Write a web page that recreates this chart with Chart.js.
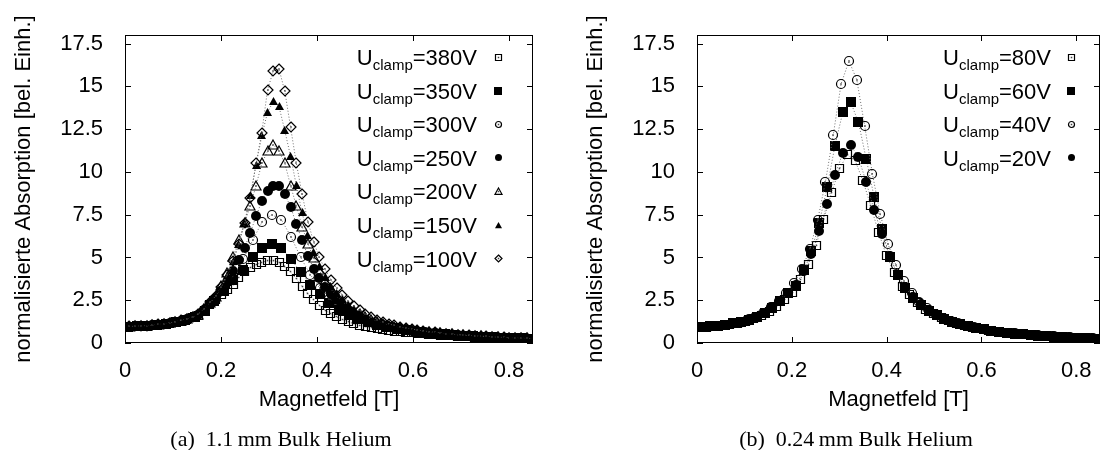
<!DOCTYPE html>
<html>
<head>
<meta charset="utf-8">
<script src="https://cdn.jsdelivr.net/npm/chart.js@4.4.1/dist/chart.umd.min.js"></script>
<style>
  html, body { margin: 0; padding: 0; background: #fff; }
  #wrap { position: relative; width: 1106px; height: 450px; overflow: hidden; }
  .panel { position: absolute; top: 0; width: 553px; height: 450px; }
  .caption { position: absolute; top: 427px; line-height: 24px; font-family: "Liberation Serif", "Times New Roman", serif;
             font-size: 22px; color: #000; white-space: nowrap; transform: translateX(-50%); }
</style>
</head>
<body>
<div id="wrap">
  <div class="panel" style="left:0"><canvas id="chart-a" width="553" height="450"></canvas></div>
  <div class="panel" style="left:553px"><canvas id="chart-b" width="553" height="450"></canvas></div>
  <div class="caption" style="left:281px">(a)&nbsp; 1.1&thinsp;mm Bulk Helium</div>
  <div class="caption" style="left:856px">(b)&nbsp; 0.24&thinsp;mm Bulk Helium</div>
</div>
<script>
// tick labels
const xTicks = [0, 0.2, 0.4, 0.6, 0.8];
const yTicks = [0, 2.5, 5, 7.5, 10, 12.5, 15, 17.5];

// (a) 1.1 mm -- field values [T]
const fieldA = [0.009,0.021,0.033,0.045,0.057,0.069,0.081,0.093,0.105,0.117,0.129,0.141,0.153,0.165,0.177,0.189,0.201,0.213,0.225,0.237,
  0.249,0.261,0.273,0.285,0.297,0.309,0.321,0.333,0.345,0.357,0.369,0.381,0.393,0.405,0.417,0.429,0.441,0.453,0.465,0.477,
  0.489,0.501,0.513,0.525,0.537,0.549,0.561,0.573,0.585,0.597,0.609,0.621,0.633,0.645,0.657,0.669,0.681,0.693,0.705,0.717,
  0.729,0.741,0.753,0.765,0.777,0.789,0.801,0.813,0.825,0.837,0.849];
const fieldB = [0.006,0.026,0.046,0.066,0.086,0.106,0.126,0.146,0.166,0.186,0.206,0.226,0.246,0.266,0.286,0.306,0.326,0.346,0.366,0.386,
  0.406,0.426,0.446,0.466,0.486,0.506,0.526,0.546,0.566,0.586,0.606,0.626,0.646,0.666,0.686,0.706,0.726,0.746,0.766,0.786,
  0.806,0.826,0.846];

const abs380 = [0.95,0.96,0.98,1.00,1.03,1.06,1.10,1.15,1.21,1.28,1.37,1.48,1.62,1.90,2.25,2.55,2.85,3.10,3.40,3.80,
  4.15,4.40,4.58,4.72,4.80,4.80,4.72,4.50,4.15,3.75,3.30,2.90,2.52,2.20,1.92,1.70,1.52,1.37,1.24,1.13,
  1.04,0.96,0.89,0.83,0.78,0.73,0.69,0.65,0.62,0.59,0.56,0.53,0.50,0.48,0.46,0.44,0.42,0.40,0.38,0.36,
  0.35,0.33,0.32,0.30,0.29,0.28,0.26,0.25,0.24,0.23,0.22];
const abs350 = [0.95,0.98,1.01,1.06,1.12,1.21,1.34,1.52,1.88,2.45,3.05,3.70,4.25,5.05,5.55,5.80,5.55,4.90,4.15,3.40,
  2.85,2.35,1.95,1.65,1.40,1.20,1.05,0.93,0.83,0.74,0.67,0.60,0.55,0.50,0.46,0.42,0.39,0.36,0.33,0.31,
  0.29,0.27,0.25];
const abs300 = [0.96,0.98,1.01,1.06,1.12,1.22,1.35,1.54,1.90,2.45,3.15,3.95,4.90,6.00,7.10,7.50,7.20,6.20,5.00,4.00,
  3.20,2.60,2.15,1.80,1.52,1.30,1.13,0.99,0.88,0.78,0.70,0.63,0.57,0.52,0.47,0.43,0.40,0.37,0.34,0.31,
  0.29,0.27,0.25];
const abs250 = [0.96,0.97,0.99,1.01,1.04,1.07,1.11,1.16,1.22,1.29,1.38,1.50,1.65,1.95,2.30,2.65,3.05,3.55,4.20,4.85,
  5.55,6.45,7.40,8.30,8.90,9.20,9.20,8.70,7.95,6.95,6.00,5.10,4.35,3.80,3.30,2.85,2.50,2.18,1.92,1.70,
  1.52,1.37,1.24,1.13,1.03,0.95,0.88,0.82,0.77,0.72,0.67,0.63,0.59,0.56,0.53,0.50,0.47,0.45,0.42,0.40,
  0.38,0.36,0.35,0.33,0.32,0.30,0.29,0.28,0.27,0.26,0.25];
const abs200 = [0.95,0.97,0.99,1.01,1.04,1.07,1.11,1.16,1.22,1.30,1.39,1.51,1.66,1.97,2.32,2.70,3.35,4.10,5.00,6.00,
  7.00,8.00,9.20,10.50,11.20,11.60,11.20,10.50,9.20,8.00,6.80,5.80,4.95,4.25,3.65,3.15,2.75,2.42,2.13,1.88,
  1.67,1.50,1.35,1.22,1.11,1.02,0.94,0.87,0.81,0.76,0.71,0.67,0.63,0.59,0.56,0.53,0.50,0.47,0.45,0.43,
  0.41,0.39,0.37,0.35,0.33,0.32,0.30,0.29,0.28,0.27,0.26];
const abs150 = [0.96,0.97,0.99,1.02,1.05,1.08,1.12,1.17,1.23,1.31,1.40,1.52,1.68,1.98,2.33,2.70,3.25,3.95,4.75,5.75,
  7.00,8.60,10.40,12.10,13.50,14.10,13.80,12.40,10.90,9.20,7.60,6.30,5.30,4.50,3.85,3.30,2.88,2.52,2.21,1.95,
  1.73,1.55,1.39,1.25,1.13,1.04,0.96,0.89,0.83,0.77,0.72,0.68,0.64,0.60,0.57,0.54,0.51,0.48,0.45,0.43,
  0.41,0.39,0.37,0.35,0.34,0.32,0.31,0.29,0.28,0.27,0.26];
const abs100 = [0.97,0.98,1.00,1.02,1.05,1.09,1.13,1.18,1.24,1.32,1.41,1.53,1.70,2.00,2.38,2.75,3.30,4.00,4.80,5.80,
  7.00,8.50,10.50,12.30,14.80,15.90,16.00,14.70,12.60,10.50,8.70,7.10,5.90,5.00,4.30,3.70,3.20,2.80,2.45,2.15,
  1.90,1.70,1.52,1.37,1.24,1.13,1.03,0.95,0.88,0.82,0.76,0.71,0.67,0.63,0.59,0.55,0.52,0.49,0.47,0.44,
  0.42,0.40,0.38,0.36,0.34,0.33,0.31,0.30,0.28,0.27,0.26];

// (b) 0.24 mm -- the runs are sampled on slightly shifted field grids
const fieldR40 = [0.007,0.0235,0.040,0.0565,0.073,0.0895,0.106,0.1225,0.139,0.1555,0.172,0.1885,0.205,0.2215,0.238,0.2545,0.271,0.2875,0.304,0.3205,
  0.337,0.3535,0.370,0.3865,0.403,0.4195,0.436,0.4525,0.469,0.4855,0.502,0.5185,0.535,0.5515,0.568,0.5845,0.601,0.6175,0.634,0.6505,
  0.667,0.6835,0.700,0.7165,0.733,0.7495,0.766,0.7825,0.799,0.8155,0.832,0.8485];
const fieldR60 = [0.0105,0.027,0.0435,0.060,0.0765,0.093,0.1095,0.126,0.1425,0.159,0.1755,0.192,0.2085,0.225,0.2415,0.258,0.2745,0.291,0.3075,0.324,
  0.3405,0.357,0.3735,0.390,0.4065,0.423,0.4395,0.456,0.4725,0.489,0.5055,0.522,0.5385,0.555,0.5715,0.588,0.6045,0.621,0.6375,0.654,
  0.6705,0.687,0.7035,0.720,0.7365,0.753,0.7695,0.786,0.8025,0.819,0.8355,0.852];
const fieldR80 = [0.0035,0.020,0.0365,0.053,0.0695,0.086,0.1025,0.119,0.1355,0.152,0.1685,0.185,0.2015,0.218,0.2345,0.251,0.2675,0.284,0.3005,0.317,
  0.3335,0.350,0.3665,0.383,0.3995,0.416,0.4325,0.449,0.4655,0.482,0.4985,0.515,0.5315,0.548,0.5645,0.581,0.5975,0.614,0.6305,0.647,
  0.6635,0.680,0.6965,0.713,0.7295,0.746,0.7625,0.779,0.7955,0.812,0.8285,0.845];
const abs80 = [0.90,0.93,0.97,1.02,1.08,1.16,1.27,1.41,1.59,1.84,2.15,2.52,2.97,3.72,4.60,5.71,7.23,8.80,10.20,10.99,
  10.66,9.48,8.02,6.45,5.12,4.10,3.32,2.84,2.35,1.98,1.70,1.47,1.29,1.14,1.02,0.91,0.82,0.75,0.68,0.62,
  0.57,0.52,0.48,0.44,0.41,0.38,0.35,0.33,0.31,0.29,0.27,0.25];
const abs60 = [0.94,0.97,1.01,1.07,1.14,1.24,1.37,1.53,1.75,2.06,2.45,2.90,3.36,4.26,5.38,7.04,9.09,11.54,13.49,14.08,
  12.90,10.75,8.55,6.65,5.04,4.00,3.22,2.65,2.22,1.89,1.62,1.41,1.24,1.10,0.98,0.88,0.80,0.72,0.66,0.60,
  0.55,0.51,0.47,0.43,0.40,0.37,0.34,0.32,0.30,0.28,0.26,0.24];
const abs40 = [0.92,0.95,1.00,1.06,1.14,1.24,1.36,1.52,1.76,2.08,2.45,2.95,3.52,4.34,5.48,7.18,9.43,12.18,15.15,16.48,
  15.39,12.71,9.87,7.53,5.77,4.56,3.62,2.90,2.40,2.02,1.72,1.48,1.29,1.14,1.01,0.91,0.80,0.73,0.67,0.61,
  0.56,0.52,0.48,0.44,0.41,0.38,0.35,0.33,0.31,0.29,0.27,0.25];
const abs20 = [0.95,0.98,1.02,1.08,1.15,1.25,1.38,1.54,1.77,2.08,2.48,2.93,3.40,4.20,5.18,6.55,8.12,9.82,11.10,11.58,
  10.85,9.39,7.78,6.36,5.08,4.00,3.25,2.70,2.27,1.93,1.65,1.43,1.25,1.11,0.99,0.89,0.81,0.73,0.67,0.61,
  0.56,0.52,0.48,0.44,0.41,0.38,0.35,0.33,0.31,0.29,0.27,0.25];

const SANS = "'Liberation Sans', Arial, Helvetica, sans-serif";

// gnuplot-like point symbols, open ones get a small centre dot
function makeMarker(shape, filled, size) {
  const s = size + 4, c = document.createElement("canvas");
  c.width = s; c.height = s;
  const g = c.getContext("2d"), m = s / 2, r = size / 2;
  g.beginPath();
  if (shape === "square") {
    if (filled) g.rect(m - r, m - r, size, size);
    else g.rect(m - r + 0.5, m - r + 0.5, size - 1, size - 1);
  } else if (shape === "circle") {
    g.arc(m, m, filled ? r : r - 0.5, 0, Math.PI * 2);
  } else if (shape === "triangle") {
    g.moveTo(m, m - r); g.lineTo(m + r, m + r * 0.8); g.lineTo(m - r, m + r * 0.8); g.closePath();
  } else if (shape === "diamond") {
    g.moveTo(m, m - r); g.lineTo(m + r, m); g.lineTo(m, m + r); g.lineTo(m - r, m); g.closePath();
  }
  if (filled) { g.fillStyle = "#000"; g.fill(); }
  else {
    g.lineWidth = 1.2; g.strokeStyle = "#000"; g.stroke();
    g.fillStyle = "#444"; g.fillRect(m - 0.75, m - 0.75, 1.5, 1.5);
  }
  return c;
}

// keep the symbol bitmaps sharp when drawn at fractional positions
const crispPoints = {
  id: "crisp",
  beforeDatasetsDraw(chart) { chart.ctx.imageSmoothingEnabled = false; },
  afterDatasetsDraw(chart) { chart.ctx.imageSmoothingEnabled = true; },
};

// frame with inward ticks on all four sides + the U_clamp key
function framePlugin(key) {
  return {
    id: "frame",
    afterDraw(chart) {
      const { ctx, chartArea: a, scales } = chart;
      ctx.save();
      ctx.strokeStyle = "#000";
      ctx.lineWidth = 1;
      ctx.strokeRect(a.left + 0.5, a.top + 0.5, a.right - a.left - 1, a.bottom - a.top - 1);
      ctx.beginPath();
      scales.x.ticks.forEach((t) => {
        const p = Math.round(scales.x.getPixelForValue(t.value)) + 0.5;
        ctx.moveTo(p, a.bottom); ctx.lineTo(p, a.bottom - 6);
        ctx.moveTo(p, a.top); ctx.lineTo(p, a.top + 6);
      });
      scales.y.ticks.forEach((t) => {
        const p = Math.round(scales.y.getPixelForValue(t.value)) + 0.5;
        ctx.moveTo(a.left, p); ctx.lineTo(a.left + 6, p);
        ctx.moveTo(a.right, p); ctx.lineTo(a.right - 6, p);
      });
      ctx.stroke();

      ctx.fillStyle = "#000";
      ctx.textAlign = "left";
      ctx.textBaseline = "alphabetic";
      key.items.forEach((it, k) => {
        const cy = key.y0 + k * key.dy, base = cy + 8;
        const big = "22px " + SANS, small = "15px " + SANS, tail = "=" + it.label;
        ctx.font = big;
        const wU = ctx.measureText("U").width, wT = ctx.measureText(tail).width;
        ctx.font = small;
        const wS = ctx.measureText("clamp").width;
        let x = key.textRight - (wU + wS + wT);
        ctx.font = big; ctx.fillText("U", x, base); x += wU;
        ctx.font = small; ctx.fillText("clamp", x, base + 5); x += wS;
        ctx.font = big; ctx.fillText(tail, x, base);
        const img = makeMarker(it.shape, it.filled, it.keySize);
        ctx.drawImage(img, Math.round(key.markerX - img.width / 2), Math.round(cy - img.height / 2));
      });
      ctx.restore();
    },
  };
}

function buildChart(id, series, lay) {
  const font = { family: SANS, size: 22, lineHeight: 1.2 };
  return new Chart(document.getElementById(id), {
    type: "scatter",
    data: {
      datasets: series.map((s, i) => ({
        label: s.label,
        data: s.x.map((x, k) => ({ x: x, y: s.y[k] })),
        showLine: true,
        borderColor: "#6e6e6e",
        borderWidth: 1,
        borderDash: [1, 2],
        pointStyle: makeMarker(s.shape, s.filled, s.size),
        pointRadius: 5,
        pointHoverRadius: 5,
        order: -i,
      })),
    },
    options: {
      responsive: false,
      animation: false,
      devicePixelRatio: 1,
      events: [],
      layout: { padding: { top: 35, right: lay.padRight, left: 0, bottom: 0 } },
      plugins: { legend: { display: false }, tooltip: { enabled: false } },
      scales: {
        x: {
          type: "linear", min: 0, max: 0.85,
          grid: { display: false }, border: { display: false },
          afterBuildTicks: (sc) => { sc.ticks = xTicks.map((v) => ({ value: v })); },
          afterFit: (sc) => { sc.height = 107; },
          ticks: { color: "#000", font: font, padding: 7, maxRotation: 0, autoSkip: false, callback: (v) => String(v) },
          title: { display: true, text: "Magnetfeld [T]", color: "#000", font: font, padding: { top: 0, bottom: 37 } },
        },
        y: {
          type: "linear", min: 0, max: 18,
          grid: { display: false }, border: { display: false },
          afterBuildTicks: (sc) => { sc.ticks = yTicks.map((v) => ({ value: v })); },
          afterFit: (sc) => { sc.width = lay.yWidth; },
          ticks: { color: "#000", font: font, padding: 14, callback: (v) => String(v) },
          title: { display: true, text: "normalisierte Absorption [bel. Einh.]", color: "#000", font: font,
                   padding: { top: lay.titlePad, bottom: 0 } },
        },
      },
    },
    plugins: [crispPoints, framePlugin(lay.key)],
  });
}

const seriesA = [
  { label: "380V", x: fieldA, y: abs380, shape: "square", filled: false, size: 9, keySize: 7 },
  { label: "350V", x: fieldB, y: abs350, shape: "square", filled: true, size: 10, keySize: 8 },
  { label: "300V", x: fieldB, y: abs300, shape: "circle", filled: false, size: 10, keySize: 7 },
  { label: "250V", x: fieldA, y: abs250, shape: "circle", filled: true, size: 10, keySize: 7 },
  { label: "200V", x: fieldA, y: abs200, shape: "triangle", filled: false, size: 10, keySize: 7 },
  { label: "150V", x: fieldA, y: abs150, shape: "triangle", filled: true, size: 9, keySize: 7 },
  { label: "100V", x: fieldA, y: abs100, shape: "diamond", filled: false, size: 10, keySize: 7 },
];
const seriesB = [
  { label: "80V", x: fieldR80, y: abs80, shape: "square", filled: false, size: 9, keySize: 7 },
  { label: "60V", x: fieldR60, y: abs60, shape: "square", filled: true, size: 10, keySize: 8 },
  { label: "40V", x: fieldR40, y: abs40, shape: "circle", filled: false, size: 10, keySize: 7 },
  { label: "20V", x: fieldR60, y: abs20, shape: "circle", filled: true, size: 10, keySize: 7 },
];

buildChart("chart-a", seriesA, {
  padRight: 20, yWidth: 125, titlePad: 11,
  key: { items: seriesA, textRight: 477, markerX: 498, y0: 57, dy: 33.6 },
});
buildChart("chart-b", seriesB, {
  padRight: 1, yWidth: 144, titlePad: 30,
  key: { items: seriesB, textRight: 498, markerX: 518, y0: 57, dy: 33.6 },
});
</script>
</body>
</html>
